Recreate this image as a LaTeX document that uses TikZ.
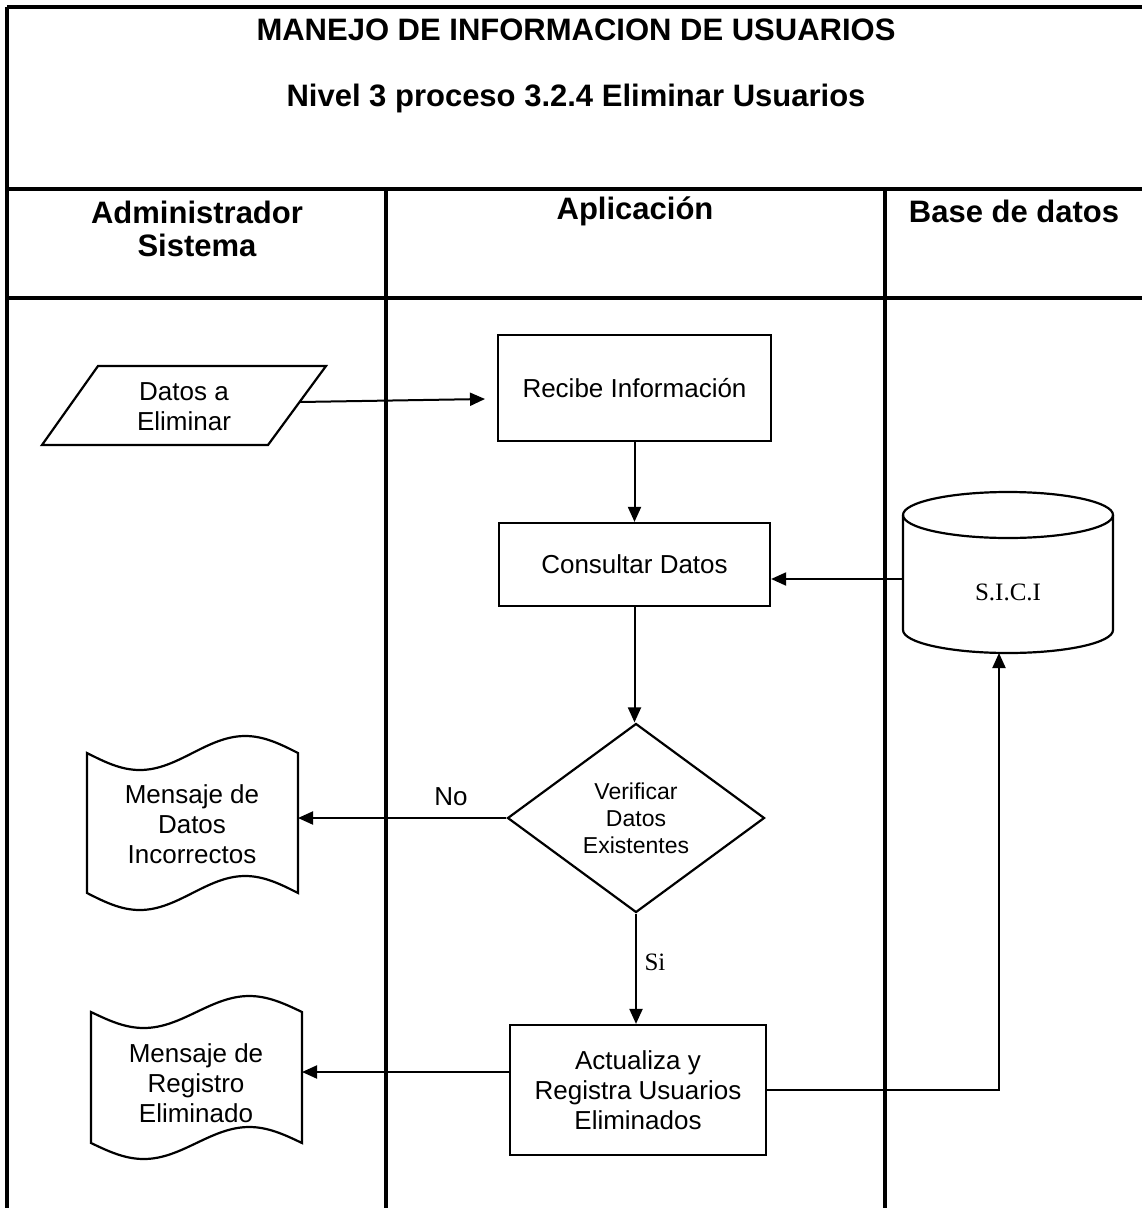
\documentclass[tikz,border=0pt]{standalone}
\usepackage{fontspec}
\setmainfont{Liberation Sans}
\newfontfamily\tmsfont{Liberation Serif}
\usetikzlibrary{arrows.meta,shapes.geometric}
\tikzset{
  tbl/.style={line width=1.6pt},
  shp/.style={line width=1.1pt},
  arr/.style={line width=1pt,-{Triangle[length=7.5pt,width=6.5pt]}},
  hdr/.style={font=\fontsize{15.5}{16.5}\selectfont\bfseries,align=center,inner sep=0pt},
  body/.style={font=\fontsize{13}{15}\selectfont,align=center,inner sep=0pt},
  boxnode/.style={shp,draw,rectangle,body},
  serif/.style={font=\tmsfont\fontsize{12.5}{15}\selectfont,inner sep=0pt},
}
\begin{document}
\begin{tikzpicture}[x=0.5pt,y=-0.5pt]
\useasboundingbox (0,0) rectangle (1142,1208);
% table
\draw[tbl] (7,7) -- (1142,7);
\draw[tbl] (7,7) -- (7,1208);
\draw[tbl] (7,189) -- (1142,189);
\draw[tbl] (7,298) -- (1142,298);
\draw[tbl] (386,189) -- (386,1208);
\draw[tbl] (885,189) -- (885,1208);
% titles
\node[hdr] (t1) at (576,30) {MANEJO DE INFORMACION DE USUARIOS};
\node[hdr] (t2) at (576,98) {Nivel 3 proceso 3.2.4 Eliminar Usuarios};
\node[hdr] (h1) at (197,229) {Administrador\\Sistema};
\node[hdr] (h2) at (635,211) {Aplicación};
\node[hdr] (h3) at (1014,211) {Base de datos};
% parallelogram
\draw[shp] (98,366) -- (326,366) -- (268,445) -- (42,445) -- cycle;
\node[body] (datos) at (184,407) {Datos a\\Eliminar};
\coordinate (datosE) at (300,402);
\coordinate (recW) at (485,399);
% boxes
\node[boxnode,minimum width=136.5pt,minimum height=53pt] (rec) at (634.5,388) {Recibe Información};
\node[boxnode,minimum width=135.5pt,minimum height=41.5pt] (cons) at (634.5,564.5) {Consultar Datos};
\node[shp,draw,diamond,inner sep=0pt,minimum width=128.5pt,minimum height=94.5pt,
      font=\fontsize{11.5}{13.5}\selectfont,align=center] (ver) at (636,818) {Verificar\\Datos\\Existentes};
\node[boxnode,minimum width=128pt,minimum height=65pt] (act) at (638,1090) {Actualiza y\\Registra Usuarios\\Eliminados};
% cylinder
\draw[shp,fill=white] (903,515) -- (903,630) arc[start angle=180,end angle=360,x radius=52.5pt,y radius=11.5pt] -- (1113,515);
\draw[shp] (1008,515) ellipse [x radius=52.5pt,y radius=11.5pt];
\node[serif] (sici) at (1008,592) {S.I.C.I};
\coordinate (cylW) at (903,579);
\coordinate (cylS) at (999,653);
% documents (punched tape)
\draw[shp] (87,753) sin (139.75,770) cos (192.5,753) sin (245.25,736) cos (298,753)
  -- (298,893) sin (245.25,876) cos (192.5,893) sin (139.75,910) cos (87,893) -- cycle;
\node[body] (doc1) at (192,824) {Mensaje de\\Datos\\Incorrectos};
\coordinate (d1E) at (298,818);
\draw[shp] (91,1012) sin (143.75,1028) cos (196.5,1012) sin (249.25,996) cos (302,1012)
  -- (302,1143) sin (249.25,1127) cos (196.5,1143) sin (143.75,1159) cos (91,1143) -- cycle;
\node[body] (doc2) at (196,1083) {Mensaje de\\Registro\\Eliminado};
\coordinate (d2E) at (302,1072);
\coordinate (actW) at (510,1072);
% connectors
\draw[arr] (datosE) -- (recW);
\draw[arr] (rec.south) -- (cons.north);
\draw[arr] (cylW) -- (cylW -| cons.east);
\draw[arr] (cons.south) -- (cons.south |- ver.north);
\draw[arr] (ver.west) -- (d1E);
\node[body] (no) at (451,797) {No};
\draw[arr] (ver.south) -- (ver.south |- act.north);
\node[serif] (si) at (655,962) {Si};
\draw[arr] (actW) -- (d2E);
\draw[arr] (act.east) -| (cylS);
\end{tikzpicture}
\end{document}
